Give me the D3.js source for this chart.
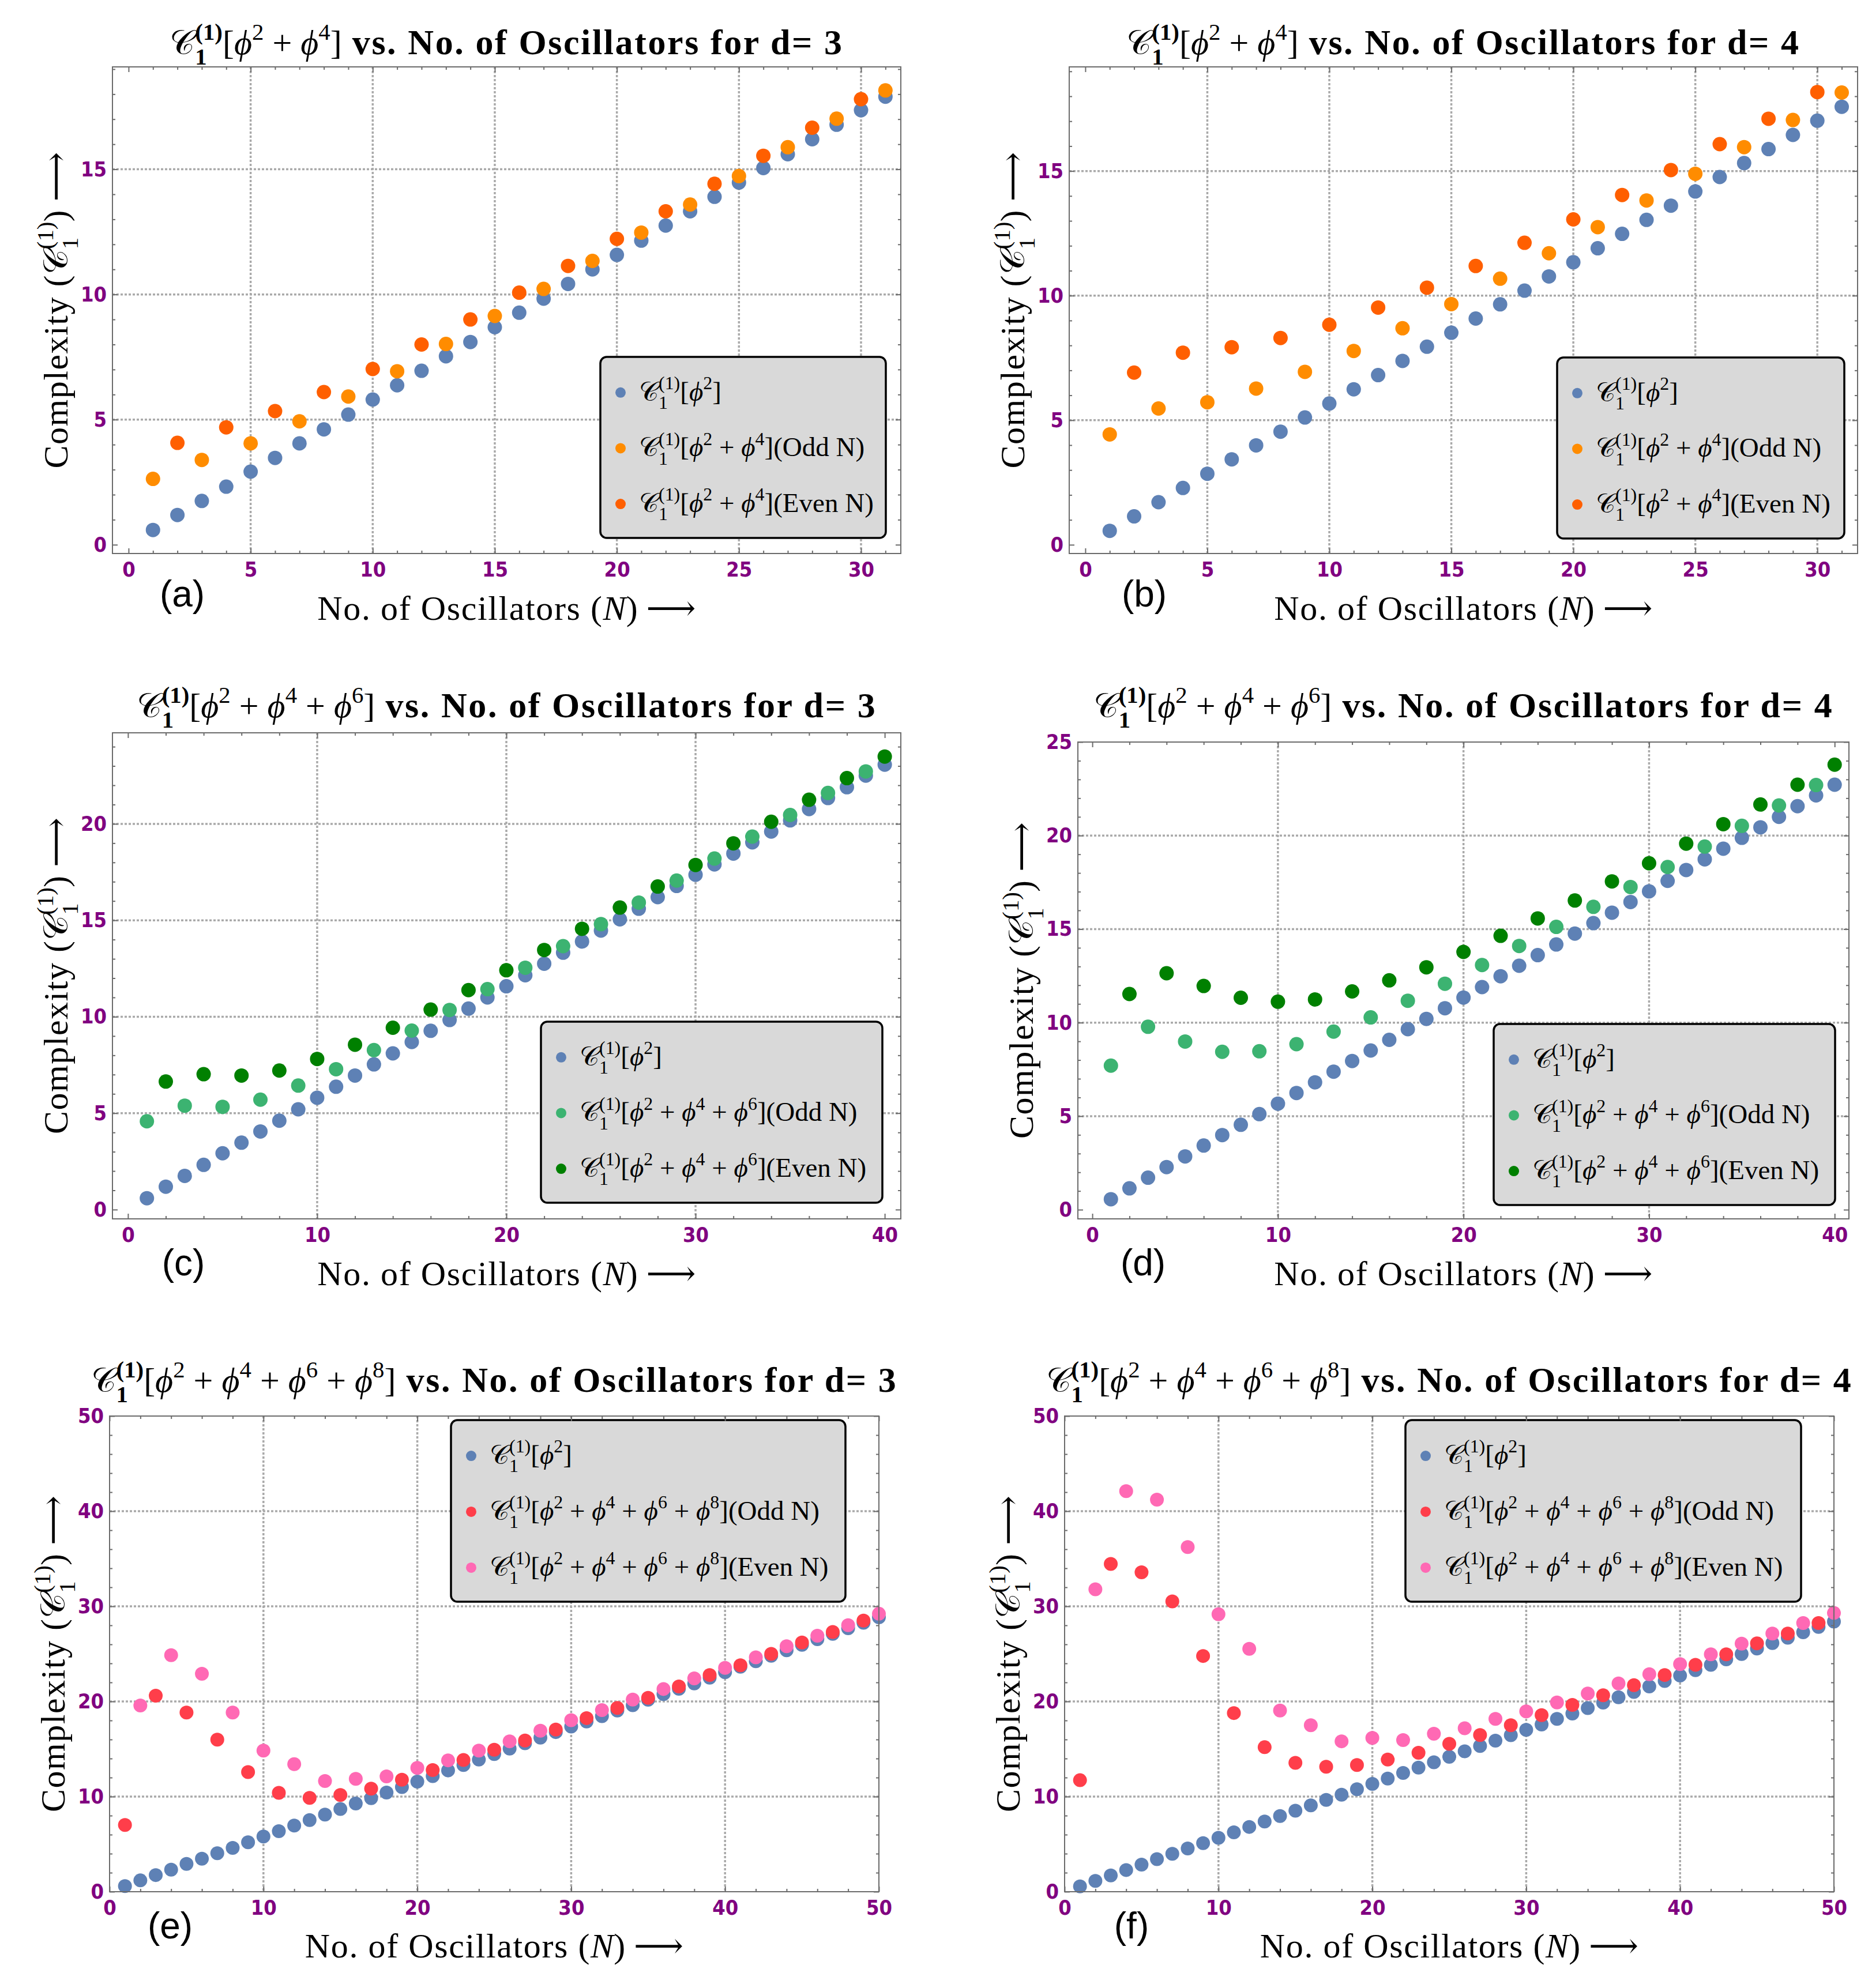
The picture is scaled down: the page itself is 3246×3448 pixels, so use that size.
<!DOCTYPE html>
<html>
<head>
<meta charset="utf-8">
<script src="https://cdn.jsdelivr.net/npm/d3@7"></script>
<style>
  body { margin: 0; background: #fff; }
  text { white-space: pre; }
</style>
</head>
<body>
<div id="fig"></div>
<script>
// ---- data ----
// C1[phi^2] for N = 1..50
const blueD3 = [0.59,1.19,1.75,2.32,2.92,3.47,4.05,4.61,5.2,5.8,
  6.37,6.95,7.53,8.1,8.69,9.27,9.83,10.42,11.0,11.58,
  12.15,12.75,13.32,13.9,14.47,15.05,15.6,16.2,16.78,17.36,
  17.9,18.46,19.04,19.6,20.18,20.77,21.34,21.9,22.5,23.07,
  23.65,24.22,24.8,25.38,25.96,26.54,27.11,27.69,28.27,28.85];
const blueD4 = [0.56,1.14,1.71,2.28,2.85,3.43,3.99,4.54,5.11,5.67,
  6.24,6.81,7.38,7.95,8.51,9.08,9.65,10.2,10.77,11.34,
  11.9,12.48,13.04,13.61,14.18,14.76,15.32,15.88,16.45,17.02,
  17.58,18.16,18.73,19.3,19.88,20.44,21.0,21.57,22.15,22.72,
  23.29,23.85,24.42,24.99,25.56,26.13,26.7,27.27,27.84,28.4];

// phi^2 + phi^4, odd N = 1,3,..,31 and even N = 2,4,..,30
const quartOddD3 = [2.63,3.39,4.05,4.93,5.92,6.93,8.02,9.14,10.22,11.34,12.47,13.59,14.73,15.88,17.02,18.15];
const quartEvenD3 = [4.07,4.69,5.34,6.1,7.02,8.0,9.0,10.07,11.14,12.22,13.32,14.42,15.54,16.66,17.8];
const quartOddD4 = [4.43,5.47,5.72,6.27,6.94,7.78,8.69,9.66,10.68,11.7,12.75,13.82,14.89,15.96,17.05,18.15];
const quartEvenD4 = [6.91,7.71,7.93,8.3,8.83,9.52,10.32,11.19,12.12,13.06,14.04,15.04,16.08,17.1,18.17];

// phi^2 + phi^4 + phi^6, odd N = 1..39 and even N = 2..40
const sextOddD3 = [4.58,5.39,5.33,5.7,6.43,7.28,8.27,9.28,10.35,11.43,12.54,13.66,14.8,15.92,17.06,18.2,19.34,20.46,21.6,22.72];
const sextEvenD3 = [6.64,7.02,6.95,7.21,7.81,8.55,9.43,10.37,11.38,12.41,13.46,14.56,15.66,16.75,17.87,18.99,20.11,21.25,22.37,23.49];
const sextOddD4 = [7.7,9.78,8.99,8.44,8.47,8.85,9.52,10.28,11.17,12.08,13.08,14.1,15.12,16.19,17.25,18.32,19.41,20.52,21.61,22.7];
const sextEvenD4 = [11.53,12.64,11.96,11.33,11.12,11.24,11.67,12.26,12.96,13.78,14.64,15.57,16.53,17.55,18.52,19.57,20.61,21.66,22.72,23.79];

// phi^2 + ... + phi^8, odd N = 1..49 and even N = 2..50
const octOddD3 = [7.02,20.6,18.83,15.99,12.57,10.39,9.86,10.17,10.83,11.77,12.79,13.85,14.92,15.9,17.05,18.25,19.32,20.38,21.58,22.78,23.8,25.0,26.2,27.3,28.5];
const octEvenD3 = [19.58,24.87,22.91,18.83,14.83,13.41,11.63,11.86,12.12,13.01,13.81,14.83,15.81,16.92,18.03,19.09,20.2,21.31,22.42,23.53,24.64,25.8,26.91,28.02,29.22];
const octOddD4 = [11.72,34.46,33.57,30.51,24.78,18.78,15.19,13.54,13.14,13.32,13.9,14.61,15.54,16.47,17.5,18.56,19.63,20.65,21.71,22.78,23.85,24.96,26.11,27.13,28.24];
const octEvenD4 = [31.79,42.1,41.21,36.23,29.17,25.53,19.05,17.5,15.81,16.16,15.94,16.61,17.18,18.16,18.96,19.89,20.83,21.89,22.87,23.93,24.96,26.07,27.13,28.24,29.31];

// tick values
const xTicks31 = [0,5,10,15,20,25,30];
const xTicks40 = [0,10,20,30,40];
const xTicks50 = [0,10,20,30,40,50];
const yTicks15 = [0,5,10,15];
const yTicks20 = [0,5,10,15,20];
const yTicks25 = [0,5,10,15,20,25];
const yTicks50 = [0,10,20,30,40,50];

// ---- styles ----
const W = 3246, H = 3448;
const BLUE = '#5E81B5';
const SERIF = "'Liberation Serif', 'DejaVu Serif', serif";
const TICKFONT = "'Liberation Sans Narrow', 'DejaVu Sans Condensed', 'Roboto Condensed', sans-serif";
const FRAME = '#6b6b6b';

const panels = [
  { tag: '(a)', d: 3, pows: [2,4], box: [195,116,1562,960], xd: [-0.66,31.63], yd: [-0.35,19.09],
    xt: xTicks31, xm: 1, yt: yTicks15, ym: 1, xg: [5,10,15,20,25,30], yg: [5,10,15],
    blue: blueD3.slice(0,31), odd: quartOddD3, even: quartEvenD3, c1: '#FF8C00', c2: '#FF5F00',
    leg: [1041,619,1536,933], titleY: 94, xlabY: 1075, tagXY: [316,1052], r: 12.5 },
  { tag: '(b)', d: 4, pows: [2,4], box: [1854,116,3221,960], xd: [-0.66,31.65], yd: [-0.35,19.18],
    xt: xTicks31, xm: 1, yt: yTicks15, ym: 1, xg: [5,10,15,20,25,30], yg: [5,10,15],
    blue: blueD4.slice(0,31), odd: quartOddD4, even: quartEvenD4, c1: '#FF8C00', c2: '#FF5F00',
    leg: [2700,620,3198,934], titleY: 94, xlabY: 1075, tagXY: [1984,1052], r: 12.5 },
  { tag: '(c)', d: 3, pows: [2,4,6], box: [195,1271,1562,2114], xd: [-0.82,40.85], yd: [-0.48,24.72],
    xt: xTicks40, xm: 2, yt: yTicks20, ym: 1, xg: [10,20,30], yg: [5,10,15,20],
    blue: blueD3.slice(0,40), odd: sextOddD3, even: sextEvenD3, c1: '#3CB371', c2: '#008000',
    leg: [938,1772,1530,2086], titleY: 1244, xlabY: 2229, tagXY: [318,2212], r: 12.5 },
  { tag: '(d)', d: 4, pows: [2,4,6], box: [1869,1287,3206,2114], xd: [-0.78,40.77], yd: [-0.49,25],
    xt: xTicks40, xm: 2, yt: yTicks25, ym: 1, xg: [10,20,30], yg: [5,10,15,20],
    blue: blueD4.slice(0,40), odd: sextOddD4, even: sextEvenD4, c1: '#3CB371', c2: '#008000',
    leg: [2590,1776,3182,2090], titleY: 1244, xlabY: 2229, tagXY: [1982,2212], r: 12.5 },
  { tag: '(e)', d: 3, pows: [2,4,6,8], box: [190,2456,1524,3281], xd: [0,50], yd: [0,50],
    xt: xTicks50, xm: 2, yt: yTicks50, ym: 2, xg: [10,20,30,40], yg: [10,20,30,40],
    blue: blueD3, odd: octOddD3, even: octEvenD3, c1: '#FF3E4A', c2: '#FF69B4',
    leg: [782,2463,1466,2778], titleY: 2414, xlabY: 3395, tagXY: [295,3362], r: 12 },
  { tag: '(f)', d: 4, pows: [2,4,6,8], box: [1846,2456,3180,3281], xd: [0,50], yd: [0,50],
    xt: xTicks50, xm: 2, yt: yTicks50, ym: 2, xg: [10,20,30,40], yg: [10,20,30,40],
    blue: blueD4, odd: octOddD4, even: octEvenD4, c1: '#FF3E4A', c2: '#FF69B4',
    leg: [2437,2463,3123,2778], titleY: 2414, xlabY: 3395, tagXY: [1962,3362], r: 12 }
];

const svg = d3.select('#fig').append('svg')
  .attr('width', W).attr('height', H)
  .attr('viewBox', `0 0 ${W} ${H}`);
svg.append('rect').attr('width', W).attr('height', H).attr('fill', '#fff');

// writes a little bit of maths into a <text> as tspans
function writeMath(text, segs, fs) {
  let cur = 0, pad = 0;
  const sf = fs * 0.68, subOff = fs * 0.3, supOff = -fs * 0.42;
  segs.forEach(s => {
    if (s.sub !== undefined) {
      const a = text.append('tspan').attr('font-size', sf).attr('dy', subOff - cur).attr('dx', pad)
        .attr('font-weight', s.b ? 'bold' : 'normal').attr('font-style', 'normal').text(s.sub);
      cur = subOff;
      const wa = a.node().getComputedTextLength();
      const b = text.append('tspan').attr('font-size', sf).attr('dx', -wa).attr('dy', supOff - cur)
        .attr('font-weight', s.b ? 'bold' : 'normal').attr('font-style', 'normal').text(s.sup);
      cur = supOff;
      pad = Math.max(0, wa - b.node().getComputedTextLength());
    } else if (s.sup !== undefined) {
      text.append('tspan').attr('font-size', sf).attr('dy', supOff - cur).attr('dx', pad)
        .attr('font-weight', 'normal').attr('font-style', 'normal').text(s.sup);
      cur = supOff; pad = 0;
    } else {
      const t = text.append('tspan').attr('dy', -cur).attr('dx', pad)
        .attr('font-style', s.i ? 'italic' : 'normal')
        .attr('font-weight', s.b ? 'bold' : 'normal').text(s.t);
      if (s.fs) t.attr('font-size', s.fs);
      if (s.ls) t.attr('letter-spacing', s.ls);
      cur = 0; pad = 0;
    }
  });
}

const cSegs = bold => [{ t: '𝒞' }, { sub: '1', sup: '(1)', b: bold }];
function potSegs(pows) {
  const s = [{ t: '[' }];
  pows.forEach((p, i) => {
    if (i) s.push({ t: ' + ' });
    s.push({ t: 'ϕ', i: true });
    s.push({ sup: String(p) });
  });
  s.push({ t: ']' });
  return s;
}

function drawPanel(p) {
  const [x0, y0, x1, y1] = p.box;
  const x = d3.scaleLinear().domain(p.xd).range([x0, x1]);
  const y = d3.scaleLinear().domain(p.yd).range([y1, y0]);
  const g = svg.append('g');

  // grid
  g.append('g').selectAll('line').data(p.xg).join('line')
    .attr('x1', d => x(d)).attr('x2', d => x(d)).attr('y1', y0).attr('y2', y1);
  g.append('g').selectAll('line').data(p.yg).join('line')
    .attr('y1', d => y(d)).attr('y2', d => y(d)).attr('x1', x0).attr('x2', x1);
  g.selectAll('line').attr('stroke', '#aaaaaa').attr('stroke-width', 3.5).attr('stroke-dasharray', '4,3');

  // points: phi^2, odd N, even N
  const series = [
    { vals: p.blue, n: i => i + 1, color: BLUE },
    { vals: p.odd, n: i => 2 * i + 1, color: p.c1 },
    { vals: p.even, n: i => 2 * i + 2, color: p.c2 }
  ];
  series.forEach(s => {
    g.append('g').selectAll('circle').data(s.vals).join('circle')
      .attr('cx', (d, i) => x(s.n(i))).attr('cy', d => y(d))
      .attr('r', p.r).attr('fill', s.color);
  });

  // legend
  const [lx0, ly0, lx1, ly1] = p.leg;
  const lg = g.append('g');
  lg.append('rect').attr('x', lx0).attr('y', ly0).attr('width', lx1 - lx0).attr('height', ly1 - ly0)
    .attr('rx', 11).attr('fill', '#d9d9d9').attr('stroke', '#000').attr('stroke-width', 3.5);
  const rowH = (ly1 - ly0) / 3.25;
  const rows = [
    { color: BLUE, segs: cSegs(false).concat(potSegs([2])) },
    { color: p.c1, segs: cSegs(false).concat(potSegs(p.pows), [{ t: '(Odd N)' }]) },
    { color: p.c2, segs: cSegs(false).concat(potSegs(p.pows), [{ t: '(Even N)' }]) }
  ];
  rows.forEach((r, i) => {
    const cy = ly0 + rowH * (0.64 + i);
    lg.append('circle').attr('cx', lx0 + 35).attr('cy', cy).attr('r', 9).attr('fill', r.color);
    const t = lg.append('text').attr('x', lx0 + 67).attr('y', cy + 14)
      .attr('font-family', SERIF).attr('font-size', 47).attr('fill', '#000');
    writeMath(t, r.segs, 47);
  });

  // frame ticks (inward, all four sides)
  const minorX = d3.range(0, p.xd[1] + 1e-6, p.xm).filter(v => !p.xt.includes(v));
  const minorY = d3.range(0, p.yd[1] + 1e-6, p.ym).filter(v => !p.yt.includes(v));
  const ax = [
    [d3.axisBottom(x), `translate(0,${y1})`, true, p.xt, minorX, true],
    [d3.axisTop(x), `translate(0,${y0})`, false, p.xt, minorX, true],
    [d3.axisLeft(y), `translate(${x0},0)`, true, p.yt, minorY, false],
    [d3.axisRight(y), `translate(${x1},0)`, false, p.yt, minorY, false]
  ];
  ax.forEach(([axis, tr, labels, major, minor, horiz]) => {
    g.append('g').attr('transform', tr)
      .call(axis.tickValues(minor).tickSize(-5).tickSizeOuter(0).tickFormat(''))
      .call(s => s.select('.domain').remove());
    const a = g.append('g').attr('transform', tr)
      .call(axis.tickValues(major).tickSize(-9).tickSizeOuter(0)
        .tickPadding(horiz ? 14 : 10).tickFormat(labels ? d3.format('d') : ''));
    a.select('.domain').remove();
    a.selectAll('text').attr('font-family', TICKFONT).attr('font-size', 36)
      .attr('font-weight', 'bold').attr('fill', '#800080');
  });
  g.selectAll('.tick line').attr('stroke', FRAME).attr('stroke-width', 2);
  g.append('rect').attr('x', x0).attr('y', y0).attr('width', x1 - x0).attr('height', y1 - y0)
    .attr('fill', 'none').attr('stroke', FRAME).attr('stroke-width', 2);

  const cx = (x0 + x1) / 2;
  // title
  const title = g.append('text').attr('x', cx).attr('y', p.titleY).attr('text-anchor', 'middle')
    .attr('font-family', SERIF).attr('font-size', 60).attr('fill', '#000');
  writeMath(title, cSegs(true).concat(potSegs(p.pows),
    [{ t: ` vs. No. of Oscillators for d= ${p.d}`, b: true, fs: 62, ls: 2.6 }]), 60);

  // x label
  const xl = g.append('text').attr('x', cx).attr('y', p.xlabY).attr('text-anchor', 'middle')
    .attr('font-family', SERIF).attr('font-size', 60).attr('fill', '#000');
  writeMath(xl, [{ t: 'No. of Oscillators (', ls: 1.6 }, { t: 'N', i: true }, { t: ') ⟶' }], 60);

  // y label
  const yl = g.append('text').attr('text-anchor', 'middle')
    .attr('transform', `translate(${x0 - 78},${(y0 + y1) / 2}) rotate(-90)`)
    .attr('font-family', SERIF).attr('font-size', 60).attr('fill', '#000');
  writeMath(yl, [{ t: 'Complexity (', ls: 1.5 }].concat(cSegs(false), [{ t: ') ⟶' }]), 60);

  // panel tag
  g.append('text').attr('x', p.tagXY[0]).attr('y', p.tagXY[1]).attr('text-anchor', 'middle')
    .attr('font-family', "'Liberation Sans', Arial, sans-serif").attr('font-size', 64)
    .attr('fill', '#000').text(p.tag);
}

panels.forEach(drawPanel);
</script>
</body>
</html>
